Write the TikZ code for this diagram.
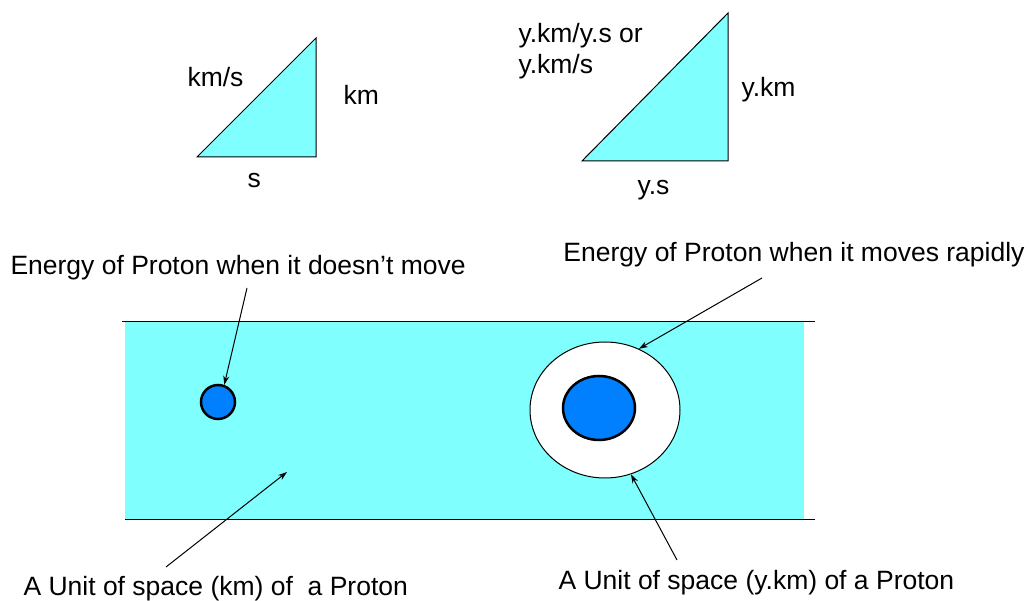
\documentclass[tikz,border=0pt]{standalone}
\usepackage{fontspec}
\setmainfont{Liberation Sans}
\usepackage{xcolor}
\usepackage{tikz}
\usetikzlibrary{arrows.meta,positioning,shapes.geometric}
\definecolor{aqua}{HTML}{80FFFF}
\definecolor{protonblue}{HTML}{0080FF}

\begin{document}
\begin{tikzpicture}[x=1pt, y=-1pt, line width=1pt, >={Stealth[length=9pt,width=6pt]},
  lbl/.style={inner sep=0pt, anchor=base west, font=\fontsize{26.5}{30}\selectfont},
  proton/.style={draw, line width=2.5pt, fill=protonblue, inner sep=0pt}]
\useasboundingbox (0,0) rectangle (1029,601);
% triangles
\draw[fill=aqua] (197,157) -- (316,157) -- (316,38) -- cycle;
\node[lbl] (slope) at (187,87) {km/s};
\node[lbl] (rise) at (343,105) {km};
\node[lbl] (run) at (247,188) {s};
\draw[fill=aqua] (582,161) -- (728,161) -- (728,13) -- cycle;
\node[lbl] (yslope) at (518,43) {y.km/y.s or};
\node[lbl] (yslopeb) at (518,74) {y.km/s};
\node[lbl] (yrise) at (741,97) {y.km};
\node[lbl] (yrun) at (637,195) {y.s};
% band of space
\fill[aqua] (125,322) rectangle (804,520);
\draw (122,322) -- (815,322);
\draw (125,520) -- (815,520);
\node[proton, circle, minimum size=34pt] (rest) at (218,402) {};
\node[ellipse, draw, fill=white, minimum width=150pt, minimum height=136pt, inner sep=0pt] (halo) at (605,410) {};
\node[proton, ellipse, minimum width=72pt, minimum height=64pt] (fast) at (599,408) {};
% labels and pointers
\node[lbl] (restlbl) at (10,275) {Energy of Proton when it doesn't move};
\node[lbl, anchor=base east] (fastlbl) at (1025,262) {Energy of Proton when it moves rapidly};
\node[lbl] (unitlbl) at (23,595) {A Unit of space (km) of~ a Proton};
\node[lbl] (ylbl) at (558,590) {A Unit of space (y.km) of a Proton};
\coordinate (restend) at (247,288);
\coordinate (fastend) at (762,278);
\coordinate (unitend) at (166,567);
\coordinate (yend) at (677,560);
\coordinate (inband) at (287,472);
\draw[->] (restend) -- (rest.70);
\draw[->] (fastend) -- (halo.61);
\draw[->] (unitend) -- (inband);
\draw[->] (yend) -- (halo.-68);
\end{tikzpicture}
\end{document}
